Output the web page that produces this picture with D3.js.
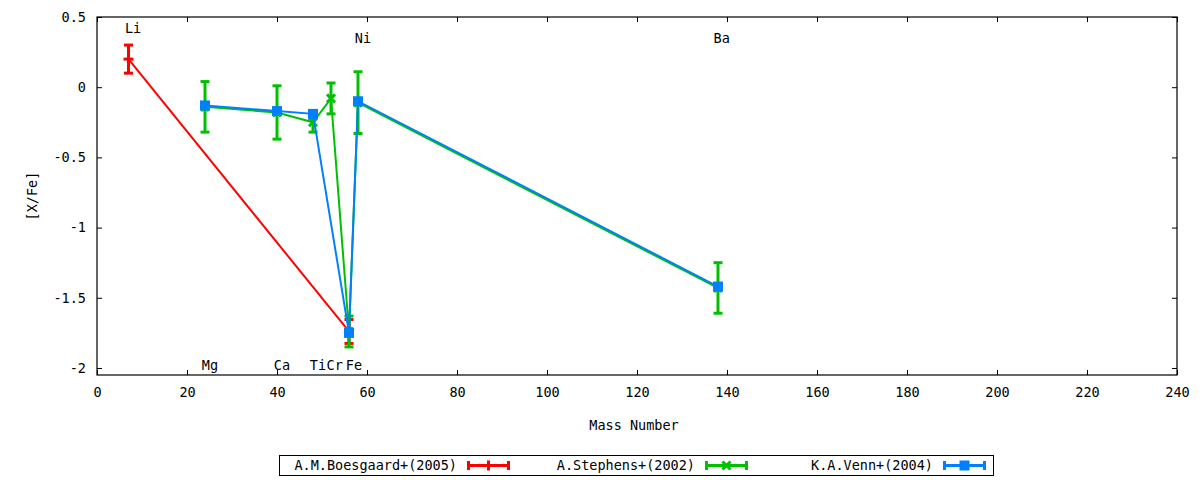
<!DOCTYPE html>
<html>
<head>
<meta charset="utf-8">
<script src="https://cdn.jsdelivr.net/npm/d3@7"></script>
<style>
  body { margin: 0; background: #fff; }
  svg text { font-family: "DejaVu Sans Mono", monospace; font-size: 13.5px; fill: #000; }
</style>
</head>
<body>
<svg id="svg" width="1200" height="480"></svg>
<script>
// series: mass number, [X/Fe], error
var boesMass = [7, 56];
var boesVal = [0.2, -1.74];
var boesErr = [0.1, 0.085];

var stepMass = [24, 40, 48, 52, 56, 58, 138];
var stepVal = [-0.14, -0.18, -0.25, -0.08, -1.74, -0.11, -1.43];
var stepErr = [0.18, 0.19, 0.07, 0.11, 0.11, 0.22, 0.18];

var vennMass = [24, 40, 48, 56, 58, 138];
var vennVal = [-0.13, -0.17, -0.19, -1.75, -0.1, -1.42];

var seriesNames = ['A.M.Boesgaard+(2005)', 'A.Stephens+(2002)', 'K.A.Venn+(2004)'];
var seriesColors = ['#ff0000', '#00c000', '#0080ff'];

// element labels (text start position in data coords)
var elemNames = ['Li', 'Ni', 'Ba', 'Mg', 'Ca', 'Ti', 'Cr', 'Fe'];
var elemX = [6.2, 57.3, 137, 23.3, 39.3, 47.3, 51, 55.3];
var elemY = [0.42, 0.35, 0.35, -1.98, -1.98, -1.98, -1.98, -1.98];

var xTicks = d3.range(0, 241, 20);
var yTicks = [-2, -1.5, -1, -0.5, 0, 0.5];

/* 基本參數 */
var margin = { top: 17, right: 23, bottom: 105, left: 97 };
var width = 1200 - margin.left - margin.right,
  height = 480 - margin.top - margin.bottom;

var scaleX = d3.scaleLinear().domain([0, 240]).range([0, width]);
var scaleY = d3.scaleLinear().domain([-2.05, 0.5]).range([height, 0]);

var s = d3.select('#svg');
var g = s.append('g')
  .attr('transform', 'translate(' + margin.left + ',' + margin.top + ')');

var fmt = function (d) { return String(d); };

// axes, ticks inward and mirrored
g.append('g').attr('transform', 'translate(0,' + height + ')')
  .call(d3.axisBottom(scaleX).tickValues(xTicks).tickSize(-5).tickPadding(12).tickFormat(fmt));
g.append('g')
  .call(d3.axisTop(scaleX).tickValues(xTicks).tickSize(-5).tickFormat(''));
g.append('g')
  .call(d3.axisLeft(scaleY).tickValues(yTicks).tickSize(-5).tickPadding(11).tickFormat(fmt));
g.append('g').attr('transform', 'translate(' + width + ',0)')
  .call(d3.axisRight(scaleY).tickValues(yTicks).tickSize(-5).tickFormat(''));
g.selectAll('.domain').remove();
g.selectAll('.tick line').attr('stroke', '#000');
g.selectAll('.tick text').style('font-family', '"DejaVu Sans Mono", monospace').style('font-size', '13.5px');

g.append('rect')
  .attr('width', width).attr('height', height)
  .attr('fill', 'none').attr('stroke', '#000').attr('stroke-width', 1.2);

// axis titles
s.append('text').attr('x', 634).attr('y', 430).attr('text-anchor', 'middle').text('Mass Number');
s.append('text').attr('transform', 'translate(37,196) rotate(-90)')
  .attr('text-anchor', 'middle').text('[X/Fe]');

// element labels
g.selectAll('text.elem')
  .data(elemNames)
  .enter()
  .append('text')
  .attr('class', 'elem')
  .attr('x', function (d, i) { return scaleX(elemX[i]); })
  .attr('y', function (d, i) { return scaleY(elemY[i]); })
  .attr('dy', '0.35em')
  .text(function (d) { return d; });

function drawSeries(mass, val, err, color, marker) {
  var pts = mass.map(function (m, i) { return { x: m, y: val[i], e: err ? err[i] : 0 }; });
  var line = d3.line()
    .x(function (d) { return scaleX(d.x); })
    .y(function (d) { return scaleY(d.y); });
  g.append('path').datum(pts)
    .attr('d', line).attr('fill', 'none')
    .attr('stroke', color).attr('stroke-width', 2);

  if (err) {
    var eb = g.append('g').attr('stroke', color).attr('stroke-width', 3);
    pts.forEach(function (d) {
      var cx = scaleX(d.x), y1 = scaleY(d.y + d.e), y2 = scaleY(d.y - d.e);
      eb.append('line').attr('x1', cx).attr('x2', cx).attr('y1', y1).attr('y2', y2);
      eb.append('line').attr('x1', cx - 4.5).attr('x2', cx + 4.5).attr('y1', y1).attr('y2', y1);
      eb.append('line').attr('x1', cx - 4.5).attr('x2', cx + 4.5).attr('y1', y2).attr('y2', y2);
    });
  }

  pts.forEach(function (d) {
    drawMarker(g, scaleX(d.x), scaleY(d.y), color, marker);
  });
}

function drawMarker(parent, cx, cy, color, marker) {
  if (marker === 'plus') {
    parent.append('line').attr('x1', cx - 5).attr('x2', cx + 5).attr('y1', cy).attr('y2', cy)
      .attr('stroke', color).attr('stroke-width', 3);
    parent.append('line').attr('x1', cx).attr('x2', cx).attr('y1', cy - 5).attr('y2', cy + 5)
      .attr('stroke', color).attr('stroke-width', 3);
  } else if (marker === 'cross') {
    parent.append('path')
      .attr('d', 'M' + (cx - 4) + ',' + (cy - 4) + 'L' + (cx + 4) + ',' + (cy + 4) +
        'M' + (cx - 4) + ',' + (cy + 4) + 'L' + (cx + 4) + ',' + (cy - 4))
      .attr('stroke', color).attr('stroke-width', 3);
  } else {
    parent.append('rect').attr('x', cx - 5).attr('y', cy - 5).attr('width', 10).attr('height', 10)
      .attr('fill', color);
  }
}

drawSeries(boesMass, boesVal, boesErr, seriesColors[0], 'plus');
drawSeries(stepMass, stepVal, stepErr, seriesColors[1], 'cross');
drawSeries(vennMass, vennVal, null, seriesColors[2], 'square');

// legend
var markers = ['plus', 'cross', 'square'];
var leg = s.append('g');
leg.append('rect').attr('x', 279.5).attr('y', 455.5).attr('width', 714).attr('height', 20)
  .attr('fill', 'none').attr('stroke', '#000').attr('stroke-width', 1);
seriesNames.forEach(function (name, i) {
  var x0 = 467 + i * 238;
  leg.append('text').attr('x', x0 - 10).attr('y', 465.5).attr('dy', '0.35em')
    .attr('text-anchor', 'end').text(name);
  var c = seriesColors[i];
  leg.append('line').attr('x1', x0).attr('x2', x0 + 43).attr('y1', 465.5).attr('y2', 465.5)
    .attr('stroke', c).attr('stroke-width', 3);
  [x0 + 1.5, x0 + 41.5].forEach(function (cx) {
    leg.append('line').attr('x1', cx).attr('x2', cx).attr('y1', 461).attr('y2', 470)
      .attr('stroke', c).attr('stroke-width', 3);
  });
  drawMarker(leg, x0 + 21.5, 465.5, c, markers[i]);
});
</script>
</body>
</html>
